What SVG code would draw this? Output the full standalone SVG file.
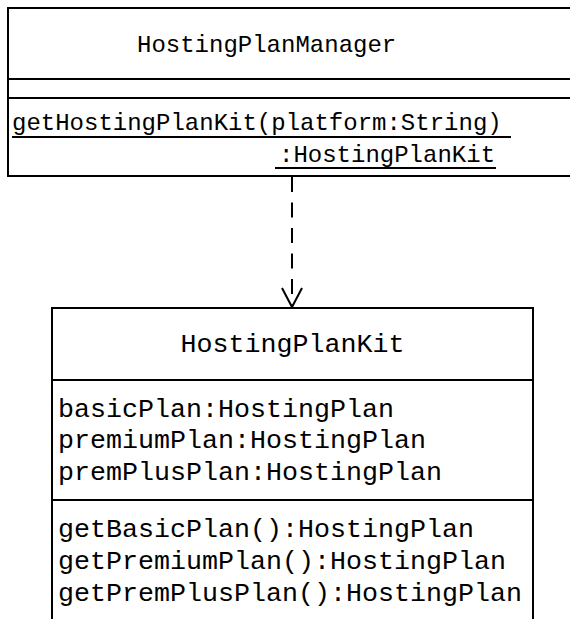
<svg xmlns="http://www.w3.org/2000/svg" width="570" height="619" viewBox="0 0 570 619">
<style>
.box{fill:#fff;stroke:#000;stroke-width:2}
.ln{stroke:#000;stroke-width:2;fill:none}
.t1{font-family:"Liberation Mono","Courier New",monospace;font-size:24px;fill:#000}
.t2{font-family:"Liberation Mono","Courier New",monospace;font-size:26.67px;fill:#000}
</style>
<rect width="570" height="619" fill="#fff"/>
<g id="HostingPlanManager">
<rect class="box" x="8" y="8" width="580" height="168"/>
<line class="ln" x1="8" y1="79" x2="570" y2="79"/>
<line class="ln" x1="8" y1="98" x2="570" y2="98"/>
<text class="t1" x="137" y="52">HostingPlanManager</text>
<text class="t1" x="12" y="130">getHostingPlanKit(platform:String)</text>
<line class="ln" x1="12" y1="137" x2="511" y2="137"/>
<text class="t1" x="279" y="162">:HostingPlanKit</text>
<line class="ln" x1="275" y1="168" x2="496" y2="168"/>
</g>
<g id="HostingPlanKit">
<rect class="box" x="52" y="308" width="481" height="330"/>
<line class="ln" x1="52" y1="380" x2="533" y2="380"/>
<line class="ln" x1="52" y1="500" x2="533" y2="500"/>
<text class="t2" x="292.5" y="352" text-anchor="middle">HostingPlanKit</text>
<text class="t2" x="58" y="417">basicPlan:HostingPlan</text>
<text class="t2" x="58" y="448">premiumPlan:HostingPlan</text>
<text class="t2" x="58" y="480">premPlusPlan:HostingPlan</text>
<text class="t2" x="58" y="537">getBasicPlan():HostingPlan</text>
<text class="t2" x="58" y="569">getPremiumPlan():HostingPlan</text>
<text class="t2" x="58" y="601">getPremPlusPlan():HostingPlan</text>
</g>
<g id="connectors">
<line class="ln" x1="292" y1="177" x2="292" y2="306" stroke-dasharray="15,10.5"/>
<polyline class="ln" points="282,288 292,307 302,288"/>
</g>
</svg>
